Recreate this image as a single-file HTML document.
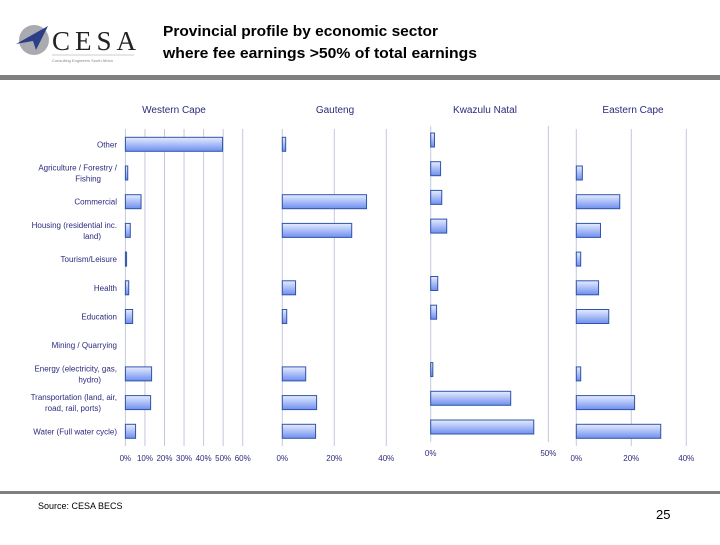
<!DOCTYPE html>
<html><head><meta charset="utf-8"><style>
body{margin:0;width:720px;height:540px;background:#fff;overflow:hidden;font-family:"Liberation Sans",sans-serif}
</style></head><body>
<svg id="c" width="720" height="540" xmlns="http://www.w3.org/2000/svg">
<defs><linearGradient id="g" x1="0" y1="0" x2="0" y2="1"><stop offset="0" stop-color="#e6ecff"/><stop offset="1" stop-color="#6f8ff0"/></linearGradient></defs>
<g>
<circle cx="34" cy="40" r="15" fill="#a9abb0"/>
<polygon points="16,44 48,26 36,50 33,41" fill="#2c3f86"/>
<text x="52" y="50" font-family="Liberation Serif,serif" font-size="27" fill="#222" letter-spacing="5">CESA</text>
<line x1="52" y1="55" x2="134" y2="55" stroke="#999" stroke-width="0.6"/>
<text x="52" y="62" font-size="4" fill="#888">Consulting Engineers South Africa</text>
</g>
<text x="163" y="36" font-size="14.5" font-weight="bold" fill="#000" textLength="275" lengthAdjust="spacingAndGlyphs">Provincial profile by economic sector</text>
<text x="163" y="58" font-size="14.5" font-weight="bold" fill="#000" textLength="314" lengthAdjust="spacingAndGlyphs">where fee earnings &gt;50% of total earnings</text>
<rect x="0" y="75" width="720" height="5" fill="#7f7f7f"/>
<rect x="0" y="491" width="720" height="3" fill="#7f7f7f"/>
<text x="38" y="509" font-size="9" fill="#000">Source: CESA BECS</text>
<text x="656" y="519" font-size="13" fill="#000">25</text>
</svg>
<script>
const categories=["Other","Agriculture / Forestry / Fishing","Commercial","Housing (residential inc. land)","Tourism/Leisure","Health","Education","Mining / Quarrying","Energy (electricity, gas, hydro)","Transportation (land, air, road, rail, ports)","Water (Full water cycle)"];
const westernCape=[49.7,1.2,8,2.5,0.6,1.7,3.7,0,13.4,12.9,5.2];
const gauteng=[1.3,0,32.4,26.7,0,5.1,1.7,0,9,13.2,12.8];
const kwazuluNatal=[1.6,4.2,4.7,6.8,0,3,2.5,0,0.9,34,43.8];
const easternCape=[0,2.2,15.8,8.8,1.6,8.1,11.8,0,1.6,21.2,30.7];
const wcTicks=[0,10,20,30,40,50,60];
const gTicks=[0,20,40];
const kznTicks=[0,50];
const ecTicks=[0,20,40];
const svg=document.getElementById('c');
const NS='http://www.w3.org/2000/svg';
function el(t,a,p){const e=document.createElementNS(NS,t);for(const k in a)e.setAttribute(k,a[k]);(p||svg).appendChild(e);return e;}
const C='#2b2b7e';
function panel(name,title,titleX,vals,ticks,x0,pxPer,yTop,yBot,tickY,rowY0,step){
  const g=el('g',{});
  
  
  const xs=v=>x0+v*pxPer;
  const ys=i=>rowY0+i*step;
  const t=el('text',{x:titleX,y:113,'font-size':10,fill:C,'text-anchor':'middle'},g);t.textContent=title;
  
  
  ticks.forEach(v=>{
    const l=el('line',{x1:xs(v),x2:xs(v),y1:yTop,y2:yBot,stroke:'#c4c8dc','stroke-width':1},g);
    
    
    const tx=el('text',{x:xs(v),y:tickY,'font-size':8,fill:C,'text-anchor':'middle'},g);tx.textContent=v+'%';
    
    
  });
  vals.forEach((v,i)=>{
    if(v<=0)return;
    const r=el('rect',{x:xs(0),y:ys(i)-7,width:Math.max(xs(v)-xs(0),1),height:14,fill:'url(#g)',stroke:'#2f54a8','stroke-width':1},g);
    
    
  });
}
panel('western-cape','Western Cape',174,westernCape,wcTicks,125.4,1.955,129,446,461,144.3,28.7);
panel('gauteng','Gauteng',335,gauteng,gTicks,282.3,2.6,129,446,461,144.3,28.7);
panel('kwazulu-natal','Kwazulu Natal',485,kwazuluNatal,kznTicks,430.7,2.353,126,442,456,140,28.7);
panel('eastern-cape','Eastern Cape',633,easternCape,ecTicks,576.3,2.75,129,446,461,144.3,28.7);
const labels=[["Other"],["Agriculture / Forestry /","Fishing"],["Commercial"],["Housing (residential inc.","land)"],["Tourism/Leisure"],["Health"],["Education"],["Mining / Quarrying"],["Energy (electricity, gas,","hydro)"],["Transportation (land, air,","road, rail, ports)"],["Water (Full water cycle)"]];
categories.forEach((c,i)=>{
  const y=144.3+i*28.7;
  const lines=labels[i];
  const t=el('text',{'font-size':8,fill:C,'text-anchor':'end'});
  
  
  lines.forEach((ln,j)=>{
    const s=el('tspan',{x:lines.length>1?(j==0?117:101):117,y:y+3+(lines.length>1?(j-0.5)*11:0)},t);
    s.textContent=ln;
  });
});
</script>
</body></html>
